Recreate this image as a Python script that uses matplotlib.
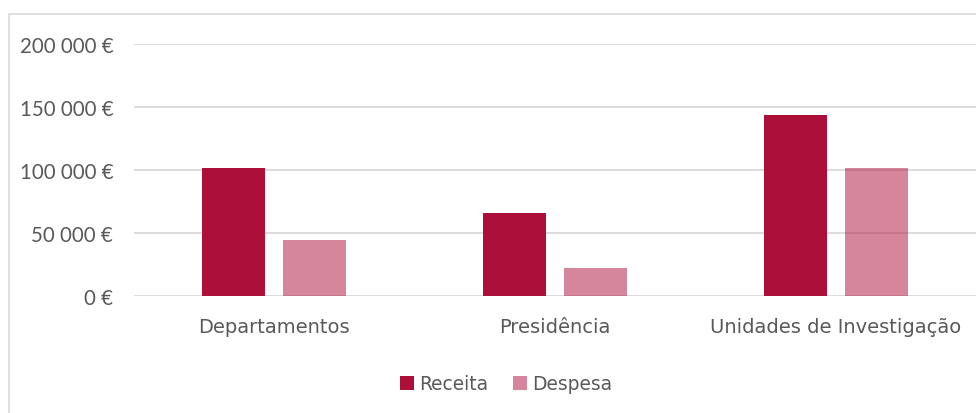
import numpy as np
import matplotlib
matplotlib.use('Agg')
from matplotlib import pyplot as plt
from matplotlib.patches import Rectangle
from matplotlib.ticker import FuncFormatter

categories = ['Departamentos', 'Presidência', 'Unidades de Investigação']
receita = [101500, 65800, 143400]
despesa = [44400, 22200, 101600]
y_ticks = [0, 50000, 100000, 150000, 200000]

red = '#AC0F3A'
grey_text = '#595959'
grid = '#D9D9D9'

fig = plt.figure(figsize=(9.76, 4.14), dpi=100)
fig.patches.append(Rectangle((9 / 976, -0.1), 1.1, 1.1 - 15 / 414,
                             transform=fig.transFigure, fill=False,
                             edgecolor=grid, linewidth=1.2))
ax = fig.add_axes([134 / 976, 1 - 297 / 414, 1 - 134 / 976, 252 / 414])

x = np.arange(len(categories))
w = 0.224
off = 0.144
ax.bar(x - off, receita, w, color=red, label='Receita', zorder=2)
ax.bar(x + off, despesa, w, color=red, alpha=0.5, label='Despesa', zorder=3)

ax.set_xlim(-0.5, 2.5)
ax.set_ylim(0, 200000)
ax.set_yticks(y_ticks)
ax.yaxis.set_major_formatter(FuncFormatter(
    lambda v, p: '{:,}'.format(int(v)).replace(',', ' ') + ' €'))
ax.grid(axis='y', color=grid, linewidth=1.3, zorder=0)
ax.set_axisbelow(True)
for s in ax.spines.values():
    s.set_visible(False)
ax.tick_params(axis='y', length=0, pad=15, labelsize=14.8, labelcolor=grey_text)
for lab in ax.get_yticklabels():
    lab.set_fontfamily('Lato')
ax.set_xticks(x)
ax.set_xticklabels(categories, fontsize=14, color=grey_text, fontfamily='DejaVu Sans')
ax.tick_params(axis='x', length=0, pad=15)

leg = fig.legend(loc='center', bbox_to_anchor=(506 / 976, 1 - 385 / 414), ncol=2,
                 frameon=False, handlelength=0.75, handleheight=0.75,
                 handletextpad=0.3, columnspacing=1.3,
                 prop={'family': 'DejaVu Sans', 'size': 13.4})
for t in leg.get_texts():
    t.set_color(grey_text)

fig.savefig('out.png', dpi=100)
